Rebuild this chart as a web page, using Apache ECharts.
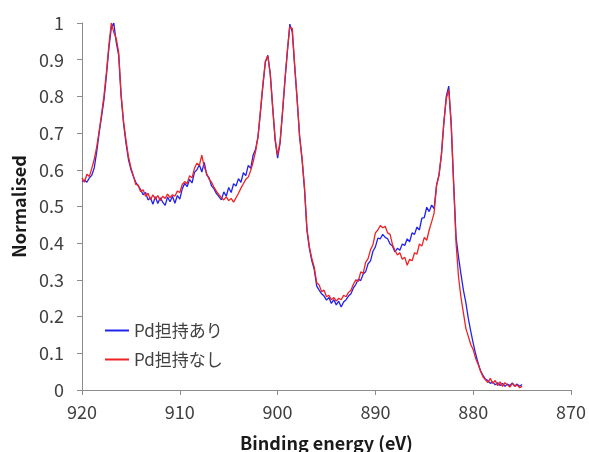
<!DOCTYPE html>
<html>
<head>
<meta charset="utf-8">
<script src="https://cdn.jsdelivr.net/npm/echarts@6/dist/echarts.min.js"></script>
<style>
  html, body { margin: 0; padding: 0; background: #ffffff; }
  #chart { width: 589px; height: 452px; }
</style>
</head>
<body>
<div id="chart"></div>
<script>
// Pd 3d region, binding energy sampled every 0.25 eV from 920 eV down to 875 eV
const energyStart = 920;
const energyStep = 0.25;

const seriesNames = ['Pd担持あり', 'Pd担持なし'];

// Normalised intensity, with Pd
const withPd = [
  0.568, 0.572, 0.566, 0.578,
  0.585, 0.605, 0.648, 0.700,
  0.745, 0.792, 0.858, 0.932,
  0.988, 1.000, 0.948, 0.912,
  0.800, 0.726, 0.672, 0.628,
  0.601, 0.582, 0.566, 0.556,
  0.546, 0.532, 0.538, 0.518,
  0.524, 0.506, 0.527, 0.508,
  0.524, 0.512, 0.503, 0.526,
  0.513, 0.528, 0.509, 0.530,
  0.520, 0.548, 0.563, 0.554,
  0.574, 0.564, 0.593, 0.600,
  0.614, 0.594, 0.620, 0.586,
  0.578, 0.556, 0.548, 0.535,
  0.527, 0.518, 0.540, 0.528,
  0.552, 0.538, 0.562, 0.556,
  0.576, 0.566, 0.592, 0.584,
  0.612, 0.604, 0.640, 0.656,
  0.690, 0.758, 0.830, 0.893,
  0.912, 0.862, 0.770, 0.680,
  0.632, 0.672, 0.754, 0.842,
  0.922, 0.997, 0.975, 0.880,
  0.790, 0.690, 0.628, 0.548,
  0.435, 0.386, 0.352, 0.328,
  0.283, 0.272, 0.262, 0.256,
  0.245, 0.252, 0.236, 0.246,
  0.232, 0.242, 0.226, 0.240,
  0.246, 0.256, 0.262, 0.278,
  0.288, 0.302, 0.298, 0.316,
  0.322, 0.344, 0.352, 0.378,
  0.390, 0.414, 0.412, 0.424,
  0.416, 0.412, 0.398, 0.392,
  0.376, 0.386, 0.381, 0.398,
  0.394, 0.412, 0.404, 0.428,
  0.424, 0.444, 0.436, 0.468,
  0.470, 0.498, 0.486, 0.504,
  0.494, 0.558, 0.586, 0.640,
  0.728, 0.800, 0.828, 0.720,
  0.565, 0.415, 0.362, 0.315,
  0.272, 0.238, 0.195, 0.160,
  0.128, 0.098, 0.074, 0.052,
  0.040, 0.030, 0.026, 0.018,
  0.022, 0.014, 0.020, 0.012,
  0.018, 0.010, 0.016, 0.012,
  0.019, 0.011, 0.016, 0.010,
  0.015
];

// Normalised intensity, without Pd
const withoutPd = [
  0.578, 0.566, 0.588, 0.582,
  0.604, 0.628, 0.662, 0.705,
  0.752, 0.802, 0.866, 0.940,
  1.000, 0.975, 0.958, 0.920,
  0.805, 0.732, 0.680, 0.636,
  0.606, 0.584, 0.560, 0.558,
  0.540, 0.546, 0.528, 0.536,
  0.518, 0.532, 0.520, 0.530,
  0.516, 0.528, 0.522, 0.534,
  0.524, 0.532, 0.528, 0.542,
  0.538, 0.560, 0.568, 0.562,
  0.584, 0.578, 0.604, 0.618,
  0.612, 0.640, 0.608, 0.590,
  0.574, 0.566, 0.552, 0.541,
  0.532, 0.524, 0.518, 0.526,
  0.516, 0.522, 0.512, 0.524,
  0.536, 0.550, 0.562, 0.574,
  0.580, 0.598, 0.622, 0.650,
  0.692, 0.762, 0.834, 0.896,
  0.910, 0.860, 0.768, 0.684,
  0.640, 0.676, 0.758, 0.846,
  0.925, 0.990, 0.985, 0.884,
  0.792, 0.692, 0.632, 0.552,
  0.440, 0.390, 0.358, 0.334,
  0.292, 0.286, 0.268, 0.272,
  0.254, 0.258, 0.246, 0.252,
  0.242, 0.250, 0.246, 0.258,
  0.254, 0.266, 0.272, 0.288,
  0.300, 0.296, 0.322, 0.318,
  0.348, 0.358, 0.382, 0.396,
  0.428, 0.436, 0.448, 0.442,
  0.446, 0.428, 0.424, 0.396,
  0.380, 0.368, 0.374, 0.356,
  0.362, 0.340, 0.356, 0.352,
  0.374, 0.370, 0.398, 0.392,
  0.416, 0.408, 0.436, 0.458,
  0.482, 0.556, 0.584, 0.642,
  0.730, 0.794, 0.818, 0.730,
  0.560, 0.400, 0.308, 0.252,
  0.210, 0.168, 0.146, 0.124,
  0.110, 0.086, 0.070, 0.052,
  0.036, 0.028, 0.020, 0.032,
  0.018, 0.026, 0.012, 0.022,
  0.010, 0.020, 0.014, 0.008,
  0.018, 0.010, 0.014, 0.006,
  0.010
];

const energies = withPd.map((_, i) => energyStart - i * energyStep);
const toPairs = values => values.map((v, i) => [energies[i], v]);

const fontFamily = 'Noto Sans CJK JP';
const axisGray = '#8c8c8c';
const labelColor = '#404040';

const chart = echarts.init(document.getElementById('chart'), null, { renderer: 'canvas' });

chart.setOption({
  animation: false,
  backgroundColor: '#ffffff',
  textStyle: { fontFamily: fontFamily },
  grid: { left: 82, right: 18, top: 23, bottom: 62, containLabel: false, outerBoundsMode: 'none' },
  legend: {
    orient: 'vertical',
    left: 100,
    top: 317,
    itemWidth: 24,
    itemHeight: 2,
    itemGap: 12,
    icon: 'rect',
    textStyle: { fontFamily: fontFamily, fontSize: 17, color: labelColor },
    data: seriesNames
  },
  xAxis: {
    type: 'value',
    min: 870,
    max: 920,
    interval: 10,
    inverse: true,
    name: 'Binding energy (eV)',
    nameLocation: 'middle',
    nameGap: 44,
    nameTextStyle: { fontFamily: fontFamily, fontSize: 18, fontWeight: 'bold', color: '#1a1a1a' },
    axisLine: { lineStyle: { color: axisGray, width: 1 } },
    axisTick: { show: true, length: 5, inside: false, lineStyle: { color: axisGray } },
    axisLabel: { fontFamily: fontFamily, fontSize: 18, color: labelColor, margin: 13 },
    splitLine: { show: false }
  },
  yAxis: {
    type: 'value',
    min: 0,
    max: 1,
    interval: 0.1,
    name: 'Normalised',
    nameLocation: 'middle',
    nameGap: 53,
    nameTextStyle: { fontFamily: fontFamily, fontSize: 18, fontWeight: 'bold', color: '#1a1a1a' },
    axisLine: { show: true, lineStyle: { color: axisGray, width: 1 } },
    axisTick: { show: true, length: 5, inside: false, lineStyle: { color: axisGray } },
    axisLabel: {
      fontFamily: fontFamily, fontSize: 18, color: labelColor, margin: 18,
      formatter: v => String(+v.toFixed(1))
    },
    splitLine: { show: false }
  },
  series: [
    {
      name: seriesNames[0],
      type: 'line',
      data: toPairs(withPd),
      symbol: 'none',
      showSymbol: false,
      color: '#2222ee',
      lineStyle: { color: '#2222ee', width: 1.3 }
    },
    {
      name: seriesNames[1],
      type: 'line',
      data: toPairs(withoutPd),
      symbol: 'none',
      showSymbol: false,
      color: '#ee2222',
      lineStyle: { color: '#ee2222', width: 1.3 }
    }
  ]
});
</script>
</body>
</html>
